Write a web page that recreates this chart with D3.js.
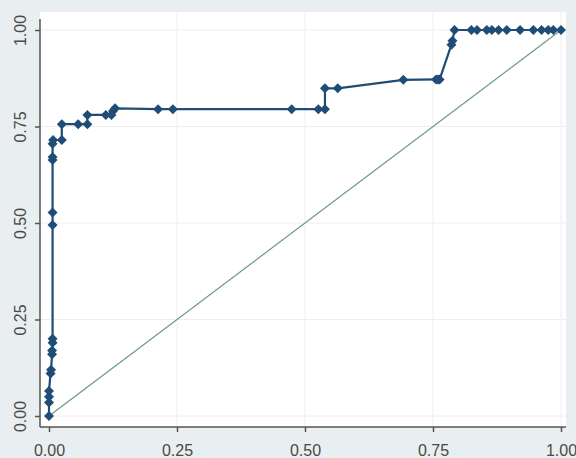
<!DOCTYPE html>
<html>
<head>
<meta charset="utf-8">
<script src="https://cdn.jsdelivr.net/npm/d3@7"></script>
<style>
  body { margin: 0; background: #e9eef0; }
  svg { display: block; }
</style>
</head>
<body>
<div id="chart"></div>
<script>
//Data///////////////////////////////////////////////////////////////////////////////////////////

// ROC points (false positive rate, true positive rate)
var fpr = [0, 0, 0, 0, 0.003, 0.004, 0.006, 0.006, 0.007, 0.007,
           0.007, 0.007, 0.007, 0.007, 0.007, 0.008, 0.025, 0.025, 0.057, 0.075,
           0.075, 0.111, 0.122, 0.125, 0.129, 0.213, 0.242, 0.474, 0.526, 0.539,
           0.539, 0.564, 0.692, 0.756, 0.760, 0.763, 0.786, 0.788, 0.792, 0.825,
           0.836, 0.855, 0.865, 0.878, 0.894, 0.920, 0.946, 0.962, 0.975, 0.985, 1.0];
var tpr = [0, 0.035, 0.05, 0.065, 0.11, 0.12, 0.16, 0.17, 0.19, 0.20,
           0.495, 0.527, 0.663, 0.671, 0.705, 0.715, 0.715, 0.756, 0.756, 0.756,
           0.78, 0.78, 0.78, 0.79, 0.797, 0.795, 0.795, 0.795, 0.795, 0.795,
           0.849, 0.849, 0.871, 0.872, 0.872, 0.872, 0.962, 0.972, 1.0, 1.0,
           1.0, 1.0, 1.0, 1.0, 1.0, 1.0, 1.0, 1.0, 1.0, 1.0, 1.0];

// reference diagonal
var diagonal = [0, 1];

var tickValues = [0, 0.25, 0.5, 0.75, 1];

var data = fpr.map(function(d, i) { return { fpr: d, tpr: tpr[i] }; });

//Graph setup////////////////////////////////////////////////////////////////////////////////////

var W = 576, H = 458;
var plot = { left: 40, right: 566, top: 12, bottom: 427 };

var svg = d3.select("#chart")
  .append("svg")
    .attr("width", W)
    .attr("height", H);

svg.append("rect")
  .attr("width", W).attr("height", H)
  .style("fill", "#e9eef0");

// white plot region
svg.append("rect")
  .attr("x", plot.left)
  .attr("y", plot.top)
  .attr("width", plot.right - plot.left)
  .attr("height", plot.bottom - plot.top)
  .style("fill", "#ffffff");

var x = d3.scaleLinear().domain([0, 1]).range([49, 561]);
var y = d3.scaleLinear().domain([0, 1]).range([416, 30]);

// faint grid
svg.append("g")
  .selectAll("line.gx")
  .data(tickValues.slice(1))
  .enter().append("line")
    .attr("x1", function(d) { return x(d); })
    .attr("x2", function(d) { return x(d); })
    .attr("y1", plot.top)
    .attr("y2", plot.bottom)
    .style("stroke", "#eeeeee")
    .style("stroke-width", 1);

svg.append("g")
  .selectAll("line.gy")
  .data(tickValues)
  .enter().append("line")
    .attr("x1", plot.left)
    .attr("x2", plot.right)
    .attr("y1", function(d) { return y(d); })
    .attr("y2", function(d) { return y(d); })
    .style("stroke", "#eeeeee")
    .style("stroke-width", 1);

//Axis/////////////////////////////////////////////////////////////////////////////////////////////

var xAxis = svg.append("g")
  .attr("transform", "translate(0," + plot.bottom + ")")
  .call(d3.axisBottom(x).tickValues(tickValues).tickSize(5).tickFormat(d3.format(".2f")));
xAxis.select(".domain").remove();
xAxis.selectAll("line").style("stroke", "#555").style("stroke-width", 1.5);
xAxis.selectAll("text")
  .attr("y", 29)
  .attr("dy", 0)
  .style("font-family", "Arial, 'Liberation Sans', sans-serif")
  .style("font-size", "16px")
  .style("fill", "#4a4a4a");

var yAxis = svg.append("g")
  .attr("transform", "translate(" + plot.left + ",0)")
  .call(d3.axisLeft(y).tickValues(tickValues).tickSize(5).tickFormat(d3.format(".2f")));
yAxis.select(".domain").remove();
yAxis.selectAll("line").style("stroke", "#555").style("stroke-width", 1.5);
yAxis.selectAll("text")
  .attr("transform", "rotate(-90)")
  .attr("x", 0)
  .attr("y", -14)
  .attr("dy", 0)
  .style("text-anchor", "middle")
  .style("font-family", "Arial, 'Liberation Sans', sans-serif")
  .style("font-size", "16px")
  .style("fill", "#4a4a4a");

// axis lines
svg.append("line")
  .attr("x1", plot.left).attr("x2", plot.left)
  .attr("y1", 19).attr("y2", plot.bottom)
  .style("stroke", "#555").style("stroke-width", 1.5);
svg.append("line")
  .attr("x1", plot.left).attr("x2", plot.right)
  .attr("y1", plot.bottom).attr("y2", plot.bottom)
  .style("stroke", "#555").style("stroke-width", 1.5);

//Lines & points///////////////////////////////////////////////////////////////////////////////////

svg.append("path")
  .datum(diagonal)
  .attr("fill", "none")
  .attr("stroke", "#6b9a80")
  .attr("stroke-width", 1.2)
  .attr("d", d3.line()
    .x(function(d) { return x(d); })
    .y(function(d) { return y(d); }));

svg.append("path")
  .datum(data)
  .attr("fill", "none")
  .attr("stroke", "#1f4d76")
  .attr("stroke-width", 2.2)
  .attr("d", d3.line()
    .x(function(d) { return x(d.fpr); })
    .y(function(d) { return y(d.tpr); }));

var diamond = d3.symbol().type(d3.symbolSquare).size(50);

svg.append("g")
  .selectAll("path")
  .data(data)
  .enter()
  .append("path")
    .attr("d", diamond)
    .attr("transform", function(d) {
      return "translate(" + x(d.fpr) + "," + y(d.tpr) + ") rotate(45)";
    })
    .style("fill", "#1f4d76");
</script>
</body>
</html>
